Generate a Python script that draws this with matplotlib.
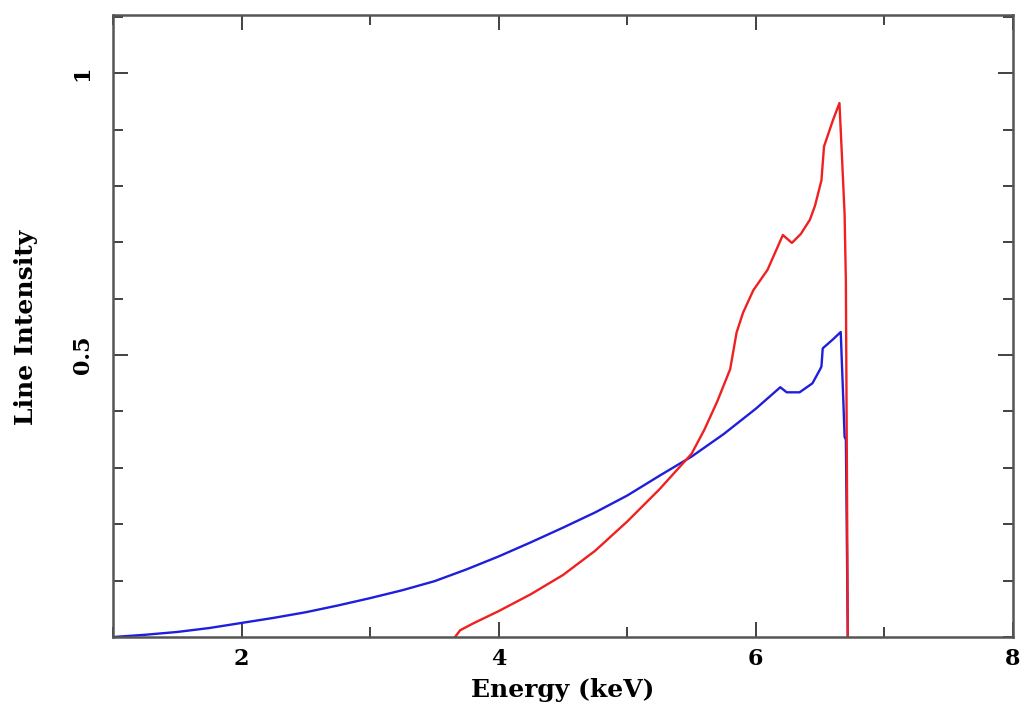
import matplotlib
matplotlib.use("Agg")
import matplotlib.pyplot as plt
from matplotlib.ticker import MultipleLocator, FixedLocator

# Blue curve (energy keV, intensity)
blue_e = [1.0, 1.25, 1.5, 1.75, 2.0, 2.25, 2.5, 2.75, 3.0, 3.25, 3.5, 3.75, 4.0,
          4.25, 4.5, 4.75, 5.0, 5.25, 5.5, 5.75, 6.0, 6.1, 6.19, 6.24, 6.34,
          6.44, 6.50, 6.51, 6.52, 6.60, 6.66, 6.67, 6.68, 6.69, 6.70, 6.715]
blue_i = [0.0, 0.004, 0.009, 0.016, 0.025, 0.034, 0.044, 0.056, 0.069, 0.083,
          0.099, 0.120, 0.143, 0.168, 0.194, 0.221, 0.251, 0.286, 0.320, 0.360,
          0.405, 0.425, 0.443, 0.434, 0.434, 0.450, 0.475, 0.480, 0.512, 0.528,
          0.541, 0.480, 0.420, 0.355, 0.350, 0.0]

# Red curve
red_e = [3.66, 3.70, 3.80, 4.0, 4.25, 4.5, 4.75, 5.0, 5.25, 5.5, 5.6, 5.7, 5.8,
         5.85, 5.9, 5.98, 6.09, 6.21, 6.28, 6.35, 6.42, 6.46, 6.51, 6.53, 6.6,
         6.65, 6.67, 6.69, 6.70, 6.715]
red_i = [0.0, 0.012, 0.024, 0.046, 0.076, 0.110, 0.153, 0.205, 0.262, 0.325,
         0.368, 0.418, 0.475, 0.540, 0.575, 0.615, 0.651, 0.713, 0.699, 0.715,
         0.740, 0.765, 0.810, 0.870, 0.917, 0.947, 0.850, 0.750, 0.630, 0.0]

x_major = [2, 4, 6, 8]
x_labels = ["2", "4", "6", "8"]
y_major = [0.5, 1.0]
y_labels = ["0.5", "1"]

font = dict(family="DejaVu Serif", weight="bold")

fig = plt.figure(figsize=(10.27, 7.19), dpi=100)
ax = fig.add_axes([0.110, 0.114, 0.8764, 0.865])

ax.plot(blue_e, blue_i, color="#1e1edc", lw=1.7)
ax.plot(red_e, red_i, color="#f02020", lw=1.7)

ax.set_xlim(1, 8)
ax.set_ylim(0, 1.103)

ax.xaxis.set_major_locator(FixedLocator(x_major))
ax.xaxis.set_minor_locator(MultipleLocator(1))
ax.yaxis.set_major_locator(FixedLocator(y_major))
ax.yaxis.set_minor_locator(MultipleLocator(0.1))
ax.set_xticklabels(x_labels, fontsize=16, **font)
ax.set_yticklabels(y_labels, fontsize=16, rotation=90, va="center", **font)

ax.tick_params(which="both", direction="in", top=True, right=True, color="#333333")
ax.tick_params(which="major", length=11, width=1.3, pad=8)
ax.tick_params(which="minor", length=7, width=1.3)
ax.tick_params(axis="y", which="major", pad=14)

for s in ax.spines.values():
    s.set_linewidth(1.8)
    s.set_color("#555555")

fig.text(0.548, 0.040, "Energy (keV)", ha="center", va="center", fontsize=18, **font)
fig.text(0.025, 0.545, "Line Intensity", ha="center", va="center", rotation=90, fontsize=18, **font)

fig.savefig("out.png", dpi=100)
